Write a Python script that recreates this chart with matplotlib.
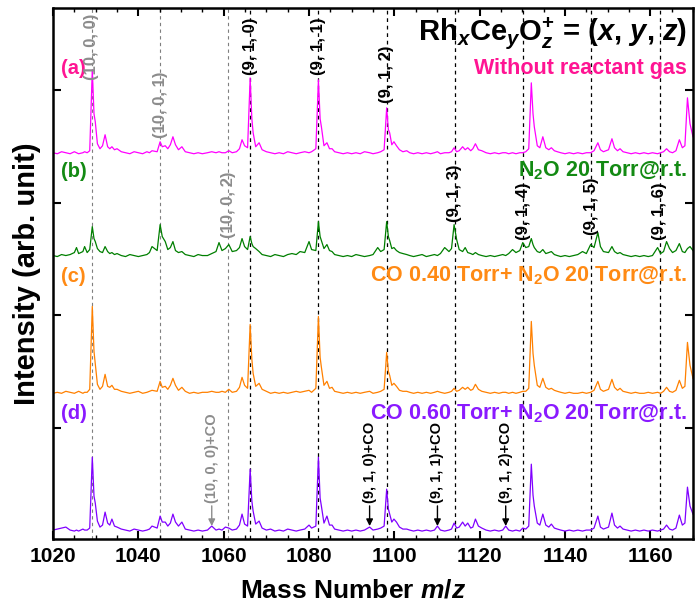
import matplotlib
matplotlib.use('Agg')
import matplotlib.pyplot as plt
from matplotlib.ticker import MultipleLocator

plt.rcParams['font.family'] = ['Liberation Sans', 'DejaVu Sans']
plt.rcParams['font.weight'] = 'bold'
plt.rcParams['mathtext.fontset'] = 'custom'
plt.rcParams['mathtext.rm'] = 'Liberation Sans:bold'
plt.rcParams['mathtext.bf'] = 'Liberation Sans:bold'
plt.rcParams['mathtext.it'] = 'Liberation Sans:italic:bold'

# mass axis shared by all four spectra
mass = [1020, 1021, 1022, 1023, 1024, 1025, 1025.5, 1026, 1027, 1027.4,
        1028, 1028.6, 1029.2, 1029.6, 1029.9, 1030.4, 1031, 1031.6, 1032.2, 1032.8,
        1033.3, 1033.8, 1034.4, 1035, 1036, 1037, 1038, 1039, 1040, 1041,
        1042, 1042.6, 1043.2, 1044.4, 1045.1, 1045.6, 1046.3, 1046.9, 1047.5, 1048.1,
        1048.7, 1049.4, 1050.2, 1051, 1052, 1053, 1054, 1055, 1056.2, 1057.2,
        1058.2, 1058.9, 1059.6, 1060.4, 1061.2, 1062, 1063, 1063.7, 1064.3, 1064.9,
        1065.6, 1066.2, 1066.6, 1066.9, 1067.5, 1068.3, 1069, 1070, 1071, 1072,
        1073, 1074, 1075, 1076, 1077, 1077.9, 1079, 1080, 1080.6, 1081.6,
        1082.2, 1082.6, 1082.9, 1083.5, 1084.2, 1084.8, 1085.4, 1086, 1087, 1088,
        1089, 1090, 1091, 1092, 1093, 1094.2, 1095, 1096.1, 1096.8, 1097.6,
        1098.2, 1098.6, 1098.9, 1099.4, 1099.9, 1100.5, 1101.2, 1102, 1102.9, 1103.6,
        1104.5, 1105.5, 1106.5, 1107.5, 1108.5, 1109.4, 1110.1, 1110.8, 1111.8, 1112.8,
        1113.4, 1114.0, 1114.6, 1115.2, 1116.0, 1116.6, 1117.2, 1117.9, 1118.4, 1119.0,
        1119.7, 1120.5, 1121.5, 1122.5, 1123.5, 1124.5, 1125.4, 1126.1, 1126.8, 1127.7,
        1128.5, 1129.4, 1130.1, 1130.8, 1131.5, 1132.1, 1132.5, 1132.8, 1133.5, 1134.1,
        1134.8, 1135.5, 1136.2, 1136.8, 1137.5, 1138.2, 1139, 1140, 1141, 1142,
        1143, 1144.1, 1145, 1146, 1146.8, 1147.7, 1148.3, 1149, 1150.2, 1151,
        1151.6, 1152.3, 1152.9, 1153.6, 1154.5, 1155.5, 1156.5, 1157.5, 1158.5, 1159.5,
        1160.5, 1161.7, 1162.4, 1163.1, 1163.8, 1164.5, 1165.2, 1166.0, 1166.8, 1167.5,
        1168.1, 1168.7, 1169.3, 1170]

# (a) without reactant gas
int_a = [1, 0, 2, 1, 0, 2, 1, 0, 1, 2,
         1, 3, 84, 40, 32, 10, 5, 8, 19, 7,
         5, 7, 4, 5, 2, 1, 0, 2, 1, 0,
         2, 1, 3, 2, 12, 7, 8, 5, 9, 17,
         9, 4, 7, 2, 1, 0, 1, 0, 1, 2,
         1, 2, 1, 1, 3, 1, 2, 5, 14, 8,
         6, 76, 35, 21, 7, 11, 4, 2, 1, 0,
         1, 0, 2, 1, 0, 1, 2, 1, 2, 5,
         74, 35, 27, 8, 11, 5, 5, 2, 1, 0,
         1, 0, 1, 0, 2, 1, 0, 1, 2, 4,
         46, 24, 21, 9, 12, 8, 4, 2, 3, 1,
         0, 1, 0, 1, 0, 1, 2, 0, 1, 1,
         2, 6, 2, 3, 7, 4, 6, 3, 5, 10,
         4, 3, 1, 0, 1, 0, 1, 1, 0, 1,
         0, 1, 1, 2, 5, 71, 40, 27, 8, 6,
         17, 6, 4, 6, 3, 2, 1, 0, 1, 0,
         1, 0, 1, 1, 3, 11, 4, 2, 4, 15,
         6, 3, 5, 2, 1, 0, 1, 0, 1, 0,
         1, 0, 1, 2, 5, 2, 1, 3, 14, 6,
         8, 56, 30, 17]

# (b) N2O 20 Torr
int_b = [1, 0, 2, 1, 2, 4, 9, 3, 5, 10,
         4, 7, 30, 18, 15, 8, 5, 4, 10, 5,
         3, 4, 2, 3, 1, 0, 2, 1, 0, 1,
         2, 4, 10, 6, 32, 20, 15, 7, 9, 15,
         6, 4, 5, 2, 1, 0, 2, 1, 1, 3,
         5, 14, 6, 8, 12, 5, 6, 9, 18, 10,
         7, 20, 13, 10, 8, 5, 2, 1, 0, 2,
         1, 0, 2, 3, 2, 5, 4, 15, 7, 6,
         35, 20, 16, 8, 12, 6, 5, 2, 1, 0,
         1, 0, 2, 1, 0, 1, 2, 9, 5, 7,
         35, 20, 16, 8, 9, 6, 4, 3, 2, 1,
         0, 1, 2, 0, 1, 2, 1, 3, 9, 5,
         8, 32, 17, 7, 5, 9, 4, 3, 2, 4,
         2, 1, 0, 1, 0, 1, 2, 1, 3, 7,
         4, 6, 14, 9, 10, 18, 12, 9, 5, 4,
         7, 3, 4, 5, 2, 1, 0, 1, 0, 1,
         2, 5, 3, 12, 9, 24, 10, 5, 4, 10,
         5, 3, 4, 2, 1, 0, 1, 0, 1, 0,
         1, 9, 3, 5, 15, 8, 4, 6, 13, 5,
         4, 8, 10, 6]

# (c) CO 0.40 Torr + N2O 20 Torr
int_c = [0, 1, 0, 2, 1, 0, 1, 2, 0, 1,
         1, 4, 87, 42, 30, 9, 4, 7, 19, 7,
         6, 8, 4, 4, 2, 1, 0, 1, 2, 0,
         1, 2, 3, 2, 12, 6, 7, 4, 8, 15,
         8, 3, 6, 2, 0, 1, 0, 1, 1, 2,
         1, 1, 2, 1, 4, 1, 2, 6, 16, 8,
         5, 69, 34, 20, 7, 10, 4, 2, 0, 1,
         0, 1, 0, 1, 2, 1, 2, 3, 1, 5,
         77, 36, 26, 8, 12, 5, 6, 2, 1, 0,
         1, 0, 1, 0, 1, 2, 0, 1, 2, 4,
         41, 22, 18, 8, 10, 7, 3, 2, 2, 1,
         0, 1, 0, 1, 0, 1, 2, 1, 0, 1,
         2, 5, 2, 3, 6, 4, 6, 3, 4, 9,
         4, 2, 1, 0, 1, 0, 1, 1, 0, 1,
         0, 1, 2, 2, 5, 72, 40, 28, 8, 6,
         15, 6, 4, 5, 3, 2, 1, 0, 1, 0,
         0, 1, 0, 1, 3, 12, 4, 2, 4, 14,
         6, 3, 5, 2, 1, 0, 1, 0, 0, 1,
         0, 1, 0, 2, 6, 2, 1, 3, 13, 5,
         7, 51, 28, 15]

# (d) CO 0.60 Torr + N2O 20 Torr
int_d = [1, 2, 3, 4, 1, 0, 1, 0, 2, 1,
         1, 3, 74, 35, 28, 10, 4, 6, 19, 8,
         6, 12, 5, 4, 2, 1, 0, 2, 1, 0,
         1, 2, 5, 3, 15, 9, 9, 5, 8, 17,
         9, 5, 9, 2, 1, 0, 1, 0, 1, 5,
         1, 2, 1, 4, 3, 1, 2, 6, 17, 7,
         5, 62, 30, 20, 7, 10, 3, 1, 2, 0,
         1, 0, 2, 1, 0, 1, 2, 6, 3, 5,
         74, 33, 25, 8, 15, 6, 6, 2, 1, 0,
         1, 0, 1, 0, 1, 4, 1, 2, 3, 5,
         42, 22, 17, 9, 12, 9, 4, 2, 2, 1,
         0, 1, 0, 1, 0, 1, 5, 1, 0, 1,
         2, 8, 3, 4, 9, 5, 8, 3, 4, 12,
         5, 3, 1, 0, 1, 0, 1, 5, 1, 0,
         1, 0, 3, 2, 5, 67, 36, 25, 8, 6,
         17, 6, 4, 7, 3, 2, 1, 0, 1, 0,
         1, 0, 1, 1, 3, 15, 4, 2, 4, 18,
         6, 3, 5, 2, 1, 0, 1, 0, 1, 0,
         1, 0, 1, 2, 6, 2, 1, 3, 16, 6,
         8, 44, 25, 17]

for arr in (int_a, int_b, int_c, int_d):
    assert len(arr) == len(mass), (len(arr), len(mass))

offsets = [386, 283, 146, 8]
trace_colors = ['#ff00ff', '#007f00', '#ff8000', '#8000ff']
label_colors = ['#ff1493', '#138a13', '#ff8a14', '#8a1aff']
tags = ['(a)', '(b)', '(c)', '(d)']
conditions = ['Without reactant gas',
              r'N$_\mathbf{2}$O 20 Torr@r.t.',
              r'CO 0.40 Torr+ N$_\mathbf{2}$O 20 Torr@r.t.',
              r'CO 0.60 Torr+ N$_\mathbf{2}$O 20 Torr@r.t.']
label_y = [466, 363, 258, 120]

# cluster positions, (10, 0, z) in gray and (9, 1, z) in black
gray_pos = [1029.1, 1045.1, 1061.1]
gray_labels = ['(10, 0, 0)', '(10, 0, 1)', '(10, 0, 2)']
gray_label_y = [460, 402, 302]
black_pos = [1066.2, 1082.2, 1098.2, 1114.2, 1130.2, 1146.2, 1162.2]
black_labels = ['(9, 1, 0)', '(9, 1, 1)', '(9, 1, 2)', '(9, 1, 3)',
                '(9, 1, 4)', '(9, 1, 5)', '(9, 1, 6)']
black_label_y = [465, 465, 437, 318, 300, 305, 300]

# CO adduct arrows on spectrum (d)
co_pos = [1057.2, 1094.2, 1110.1, 1126.1]
co_labels = ['(10, 0, 0)+CO', '(9, 1, 0)+CO', '(9, 1, 1)+CO', '(9, 1, 2)+CO']
co_colors = ['#8c8c8c', 'black', 'black', 'black']

fig = plt.figure(figsize=(6.96, 6.05), dpi=100)
ax = fig.add_axes([0.0762, 0.109, 0.9195, 0.8778])

for x in gray_pos:
    ax.axvline(x, color='#7f7f7f', lw=0.8, ls=(0, (3, 3)), zorder=1)
for x in black_pos:
    ax.axvline(x, color='black', lw=0.9, ls=(0, (3, 3)), zorder=1)

for ints, off, col in zip([int_a, int_b, int_c, int_d], offsets, trace_colors):
    ax.plot(mass, [v + off for v in ints], color=col, lw=0.9, zorder=2)

for tag, cond, y, col in zip(tags, conditions, label_y, label_colors):
    ax.text(1021.8, y, tag, color=col, fontsize=14.5, fontweight='bold', va='baseline', ha='left')
    ax.text(1168.6, y, cond, color=col, fontsize=15.5, fontweight='bold', va='baseline', ha='right')

for x, lab, y in zip(gray_pos, gray_labels, gray_label_y):
    ax.text(x, y, lab, rotation=90, ha='center', va='bottom', color='#8c8c8c',
            fontsize=12, fontweight='bold')
for x, lab, y in zip(black_pos, black_labels, black_label_y):
    ax.text(x, y, lab, rotation=90, ha='center', va='bottom', color='black',
            fontsize=12, fontweight='bold')

for x, lab, col in zip(co_pos, co_labels, co_colors):
    ax.annotate(lab, xy=(x, 13), xytext=(x, 36), rotation=90, ha='center', va='bottom',
                color=col, fontsize=10.5, fontweight='bold',
                arrowprops=dict(arrowstyle='-|>', color=col, lw=1, mutation_scale=10,
                                shrinkA=0, shrinkB=0))

ax.text(1168.6, 500,
        r'Rh$_\mathit{x}$Ce$_\mathit{y}$O$_\mathit{z}^\mathbf{+}$ = ($\mathit{x}$, $\mathit{y}$, $\mathit{z}$)',
        ha='right', va='baseline', fontsize=21, fontweight='bold')

ax.set_xlim(1020, 1170)
ax.set_ylim(0, 532)
ax.xaxis.set_major_locator(MultipleLocator(20))
ax.xaxis.set_minor_locator(MultipleLocator(5))
ax.set_yticks([111, 224, 337, 450])
ax.set_yticklabels([])
ax.tick_params(which='both', direction='in', top=True, right=True)
ax.tick_params(which='major', length=6, width=1.5, labelsize=15, pad=6)
ax.tick_params(which='minor', length=3, width=1.0)
for lab in ax.get_xticklabels():
    lab.set_fontweight('bold')
for sp in ax.spines.values():
    sp.set_linewidth(1.8)

ax.set_xlabel(r'Mass Number $\mathit{m/z}$', fontsize=19, fontweight='bold')
ax.xaxis.set_label_coords(0.469, -0.075)
ax.set_ylabel('Intensity (arb. unit)', fontsize=21, fontweight='bold', labelpad=3)

fig.savefig('out.png', dpi=100)
